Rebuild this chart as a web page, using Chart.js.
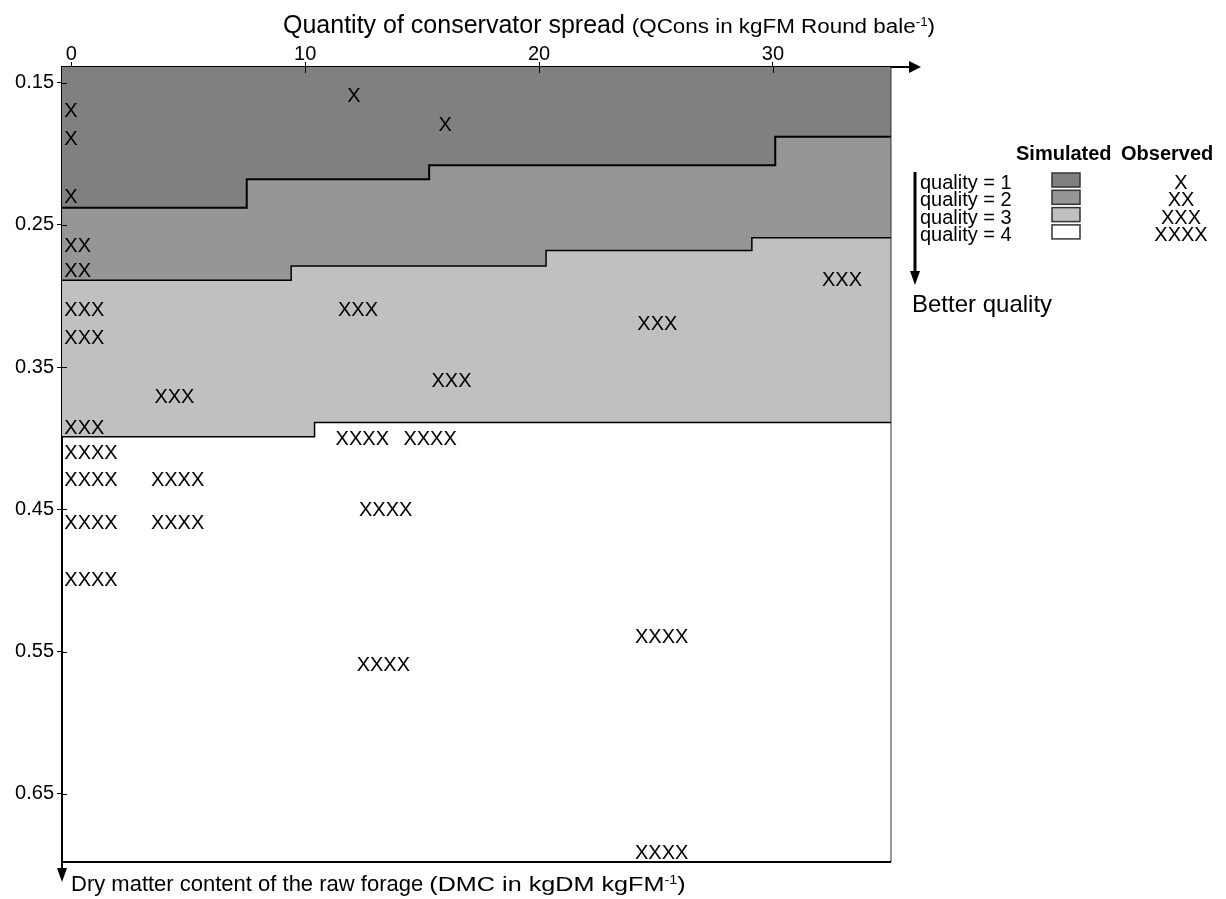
<!DOCTYPE html>
<html>
<head>
<meta charset="utf-8">
<script src="https://cdn.jsdelivr.net/npm/chart.js@4.4.1/dist/chart.umd.min.js"></script>
<style>
  html, body { margin: 0; padding: 0; background: #fff; }
  #wrap { position: relative; width: 1226px; height: 899px; }
</style>
</head>
<body>
<div id="wrap"><canvas id="chart" width="1226" height="899"></canvas></div>
<script>
const FONT = "'Liberation Sans', Arial, sans-serif";

const qconsTicks = [0, 10, 20, 30];
const dmcTicks = [0.15, 0.25, 0.35, 0.45, 0.55, 0.65];
const qconsRange = [-0.4, 35.05];
const dmcRange = [0.139, 0.698];

// simulated limits between quality classes (step functions)
const limit12Q = [-0.4, 7.5, 15.3, 30.1, 35.05];
const limit12D = [0.238, 0.218, 0.208, 0.188, 0.188];
const limit23Q = [-0.4, 9.4, 20.3, 29.1, 35.05];
const limit23D = [0.289, 0.279, 0.268, 0.259, 0.259];
const limit34Q = [-0.4, 10.4, 35.05];
const limit34D = [0.399, 0.389, 0.389];

// observed silages, one list per quality
const obs1Q = [0, 0, 0, 12.1, 16.0];
const obs1D = [0.169, 0.189, 0.230, 0.159, 0.179];
const obs2Q = [0, 0];
const obs2D = [0.264, 0.282];
const obs3Q = [0, 0, 0, 3.85, 11.7, 15.7, 24.5, 32.4];
const obs3D = [0.309, 0.329, 0.392, 0.370, 0.309, 0.359, 0.319, 0.288];
const obs4Q = [0, 0, 3.7, 0, 3.7, 0, 11.6, 14.5, 12.6, 12.5, 24.4, 24.4];
const obs4D = [0.410, 0.429, 0.429, 0.459, 0.459, 0.499, 0.400, 0.400, 0.450, 0.559, 0.539, 0.691];

const qualityNames = ['quality = 1', 'quality = 2', 'quality = 3', 'quality = 4'];
const qualityMarks = ['X', 'XX', 'XXX', 'XXXX'];
const qualityColors = ['#808080', '#969696', '#c0c0c0', '#ffffff'];

const pts = (qs, ds) => qs.map((q, i) => ({ x: q, y: ds[i] }));

function limitSet(i, qs, ds, fill, width) {
  return {
    label: 'limit ' + (i + 1) + '/' + (i + 2),
    data: pts(qs, ds),
    stepped: true,
    borderColor: '#000',
    borderWidth: width,
    backgroundColor: qualityColors[i],
    fill: fill,
    pointRadius: 0
  };
}

function obsSet(i, qs, ds) {
  return {
    label: 'observed ' + qualityNames[i],
    data: pts(qs, ds),
    mark: qualityMarks[i],
    showLine: false,
    pointRadius: 0,
    borderWidth: 0
  };
}

function arrowHead(ctx, x, y, dir) {
  ctx.beginPath();
  if (dir === 'right') {
    ctx.moveTo(x, y); ctx.lineTo(x - 12, y - 6); ctx.lineTo(x - 12, y + 6);
  } else {
    ctx.moveTo(x, y); ctx.lineTo(x - 5, y - 14); ctx.lineTo(x + 5, y - 14);
  }
  ctx.closePath();
  ctx.fill();
}

// text pieces: [text, size, stretch, raise]
function richText(ctx, x, y, pieces) {
  pieces.forEach(([t, size, sx, raise]) => {
    sx = sx || 1;
    ctx.font = size + 'px ' + FONT;
    ctx.save();
    ctx.translate(x, y - (raise || 0));
    ctx.scale(sx, 1);
    ctx.fillText(t, 0, 0);
    ctx.restore();
    x += ctx.measureText(t).width * sx;
  });
}

const obsMarks = {
  id: 'obsMarks',
  afterDatasetsDraw(chart) {
    const ctx = chart.ctx;
    ctx.save();
    ctx.font = '20px ' + FONT;
    ctx.fillStyle = '#000';
    ctx.textAlign = 'left';
    ctx.textBaseline = 'alphabetic';
    chart.data.datasets.forEach((ds, i) => {
      if (!ds.mark) return;
      chart.getDatasetMeta(i).data.forEach((p) => {
        ctx.fillText(ds.mark, p.x - 7, p.y + 7);
      });
    });
    ctx.restore();
  }
};

const frame = {
  id: 'frame',
  afterDraw(chart) {
    const ctx = chart.ctx;
    const a = chart.chartArea;
    const xs = chart.scales.x, ys = chart.scales.y;
    ctx.save();
    ctx.strokeStyle = '#000';
    ctx.fillStyle = '#000';

    // right and bottom edges
    ctx.lineWidth = 1;
    ctx.strokeStyle = '#333';
    ctx.beginPath(); ctx.moveTo(a.right, a.top); ctx.lineTo(a.right, a.bottom); ctx.stroke();
    ctx.strokeStyle = '#000';
    ctx.lineWidth = 2;
    ctx.beginPath(); ctx.moveTo(a.left, a.bottom); ctx.lineTo(a.right, a.bottom); ctx.stroke();

    // axis arrows
    ctx.beginPath(); ctx.moveTo(a.right, a.top); ctx.lineTo(a.right + 20, a.top); ctx.stroke();
    arrowHead(ctx, a.right + 30, a.top, 'right');
    ctx.beginPath(); ctx.moveTo(a.left, a.bottom); ctx.lineTo(a.left, a.bottom + 8); ctx.stroke();
    arrowHead(ctx, a.left, a.bottom + 20, 'down');

    // inner half of tick marks
    ctx.lineWidth = 1;
    qconsTicks.forEach((v) => {
      const px = Math.round(xs.getPixelForValue(v)) + 0.5;
      if (v > 0) { ctx.beginPath(); ctx.moveTo(px, a.top); ctx.lineTo(px, a.top + 6); ctx.stroke(); }
    });
    dmcTicks.forEach((v) => {
      const py = Math.round(ys.getPixelForValue(v)) + 0.5;
      ctx.beginPath(); ctx.moveTo(a.left, py); ctx.lineTo(a.left + 5, py); ctx.stroke();
    });

    // axis titles
    ctx.textAlign = 'left';
    ctx.textBaseline = 'alphabetic';
    richText(ctx, 283, 33, [
      ['Quantity of conservator spread ', 25],
      ['(QCons in kgFM Round bale', 20, 1.12],
      ['-1', 12, 1.12, 7],
      [')', 20, 1.12]
    ]);
    richText(ctx, 71, 891, [
      ['Dry matter content of the raw forage ', 22],
      ['(DMC in kgDM kgFM', 21, 1.2],
      ['-1', 12, 1.2, 7],
      [')', 21, 1.2]
    ]);

    // legend
    ctx.font = 'bold 20px ' + FONT;
    ctx.fillText('Simulated', 1016, 160);
    ctx.fillText('Observed', 1121, 160);
    qualityNames.forEach((name, i) => {
      const base = 189 + 17.3 * i;
      ctx.font = '20px ' + FONT;
      ctx.textAlign = 'left';
      ctx.fillText(name, 920, base);
      ctx.fillStyle = qualityColors[i];
      ctx.fillRect(1052, base - 16, 28, 14);
      ctx.strokeStyle = '#333';
      ctx.lineWidth = 1.5;
      ctx.strokeRect(1052, base - 16, 28, 14);
      ctx.fillStyle = '#000';
      ctx.textAlign = 'center';
      ctx.fillText(qualityMarks[i], 1181, base);
    });
    ctx.textAlign = 'left';
    ctx.strokeStyle = '#000';
    ctx.lineWidth = 3;
    ctx.beginPath(); ctx.moveTo(915, 172); ctx.lineTo(915, 272); ctx.stroke();
    arrowHead(ctx, 915, 285, 'down');
    ctx.font = '24px ' + FONT;
    ctx.fillText('Better quality', 912, 312);
    ctx.restore();
  }
};

new Chart(document.getElementById('chart'), {
  type: 'line',
  data: {
    datasets: [
      limitSet(0, limit12Q, limit12D, { value: dmcRange[0] }, 2),
      limitSet(1, limit23Q, limit23D, '-1', 1.5),
      limitSet(2, limit34Q, limit34D, '-1', 1.5),
      obsSet(0, obs1Q, obs1D),
      obsSet(1, obs2Q, obs2D),
      obsSet(2, obs3Q, obs3D),
      obsSet(3, obs4Q, obs4D)
    ]
  },
  options: {
    responsive: false,
    animation: false,
    devicePixelRatio: 1,
    layout: { padding: { left: 0, top: 0, right: 335, bottom: 37 } },
    plugins: {
      legend: { display: false },
      tooltip: { enabled: false },
      filler: { drawTime: 'beforeDatasetsDraw' }
    },
    scales: {
      x: {
        type: 'linear',
        position: 'top',
        min: qconsRange[0],
        max: qconsRange[1],
        afterBuildTicks: (s) => { s.ticks = qconsTicks.map((v) => ({ value: v })); },
        afterFit: (s) => { s.height = 67; },
        grid: { drawOnChartArea: false, drawTicks: true, tickLength: 5, color: '#000', lineWidth: 1 },
        border: { display: true, color: '#000', width: 2 },
        ticks: { color: '#000', font: { family: FONT, size: 20 }, padding: -4, maxRotation: 0, callback: (v) => String(v) }
      },
      y: {
        type: 'linear',
        reverse: true,
        min: dmcRange[0],
        max: dmcRange[1],
        afterBuildTicks: (s) => { s.ticks = dmcTicks.map((v) => ({ value: v })); },
        afterFit: (s) => { s.width = 62; },
        grid: { drawOnChartArea: false, drawTicks: true, tickLength: 5, color: '#000', lineWidth: 1 },
        border: { display: true, color: '#000', width: 2 },
        ticks: { color: '#000', font: { family: FONT, size: 20 }, padding: 3, callback: (v) => v.toFixed(2) }
      }
    }
  },
  plugins: [obsMarks, frame]
});
</script>
</body>
</html>
